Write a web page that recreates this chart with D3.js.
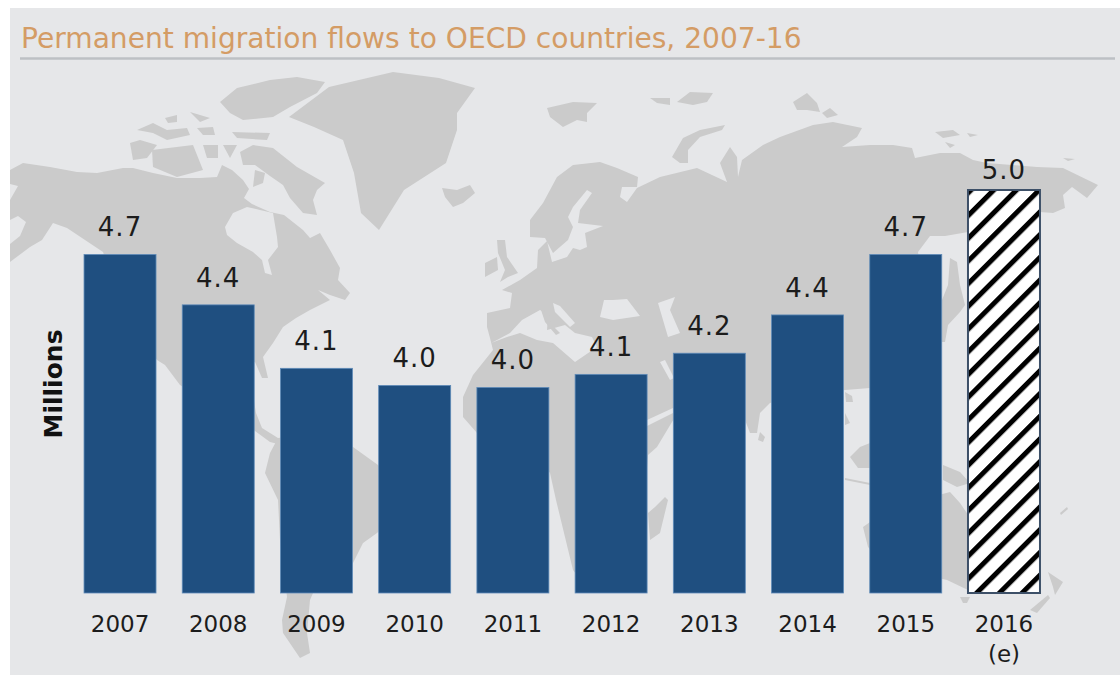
<!DOCTYPE html>
<html>
<head>
<meta charset="utf-8">
<title>Permanent migration flows to OECD countries, 2007-16</title>
<script src="https://cdn.jsdelivr.net/npm/d3@7"></script>
<style>
  html, body { margin: 0; padding: 0; background: #fff; }
  svg { display: block; }
  text { font-family: "DejaVu Sans", Verdana, sans-serif; }
</style>
</head>
<body>
<svg id="chart" width="1120" height="675"></svg>
<script>
// Chart values
const years = ["2007", "2008", "2009", "2010", "2011", "2012", "2013", "2014", "2015", "2016"];
const flows = [4.68, 4.43, 4.115, 4.03, 4.02, 4.085, 4.19, 4.38, 4.68, 5.0];
const estimatedYears = ["2016"];
const titleText = "Permanent migration flows to OECD countries, 2007-16";
const unitLabel = "Millions";

// Backdrop world map outlines, in page units
const landShapes = [
  // North America
  [[10,170],[23,163],[50,167],[77,172],[97,173],[123,168],[133,168],[153,173],[177,178],[200,178],[217,177],[222,165],[232,170],[243,180],[249,189],[244,198],[252,204],[270,212],[284,215],[303,230],[310,238],[320,233],[330,250],[340,268],[338,280],[350,293],[345,300],[330,295],[318,290],[330,300],[310,310],[296,318],[283,327],[273,343],[263,357],[268,378],[262,378],[255,362],[240,365],[215,368],[200,380],[215,400],[235,405],[253,395],[256,413],[262,428],[278,438],[278,444],[270,442],[255,431],[230,415],[180,385],[165,365],[157,360],[120,300],[103,252],[67,228],[53,223],[42,240],[30,247],[10,262],[10,244],[20,236],[26,222],[18,216],[10,220],[10,200],[18,186],[10,184]],
  // South America
  [[278,438],[300,435],[353,447],[378,465],[400,490],[396,515],[377,533],[363,543],[353,563],[335,585],[313,593],[310,600],[307,633],[310,653],[300,658],[283,633],[282,620],[287,597],[280,540],[278,500],[265,473],[270,453]],
  // Greenland
  [[289,117],[329,87],[393,72],[439,78],[475,88],[457,113],[457,130],[446,163],[404,190],[379,230],[361,213],[354,173],[343,140],[314,127]],
  // Canadian Arctic islands
  [[240,152],[253,145],[273,148],[297,167],[325,183],[317,190],[313,200],[317,215],[303,213],[290,198],[283,185],[270,176],[255,165],[243,165]],
  [[220,102],[237,88],[270,80],[297,77],[325,82],[317,93],[290,107],[273,117],[243,120],[230,113]],
  [[152,150],[193,145],[203,170],[177,177],[153,167]],
  [[130,143],[140,140],[157,145],[147,158],[133,160]],
  [[137,130],[153,123],[167,130],[187,128],[190,135],[167,140],[153,133]],
  [[165,118],[177,115],[177,122],[168,123]],
  [[190,112],[210,118],[200,122]],
  [[197,128],[213,127],[215,135],[203,135]],
  [[232,132],[270,133],[267,140],[237,138]],
  [[203,145],[218,145],[218,158],[207,158]],
  [[223,145],[237,145],[230,158]],
  [[255,170],[265,173],[263,183],[253,187]],
  // Iceland, Svalbard and the Russian Arctic
  [[442,188],[457,190],[470,185],[475,193],[463,203],[453,207],[445,197]],
  [[547,108],[573,102],[597,103],[587,113],[587,122],[577,120],[563,127],[550,117]],
  [[650,98],[670,98],[670,105],[657,103]],
  [[677,102],[690,92],[713,93],[707,102],[693,105]],
  [[672,157],[683,138],[700,130],[725,125],[722,130],[700,137],[688,150],[688,163],[680,163]],
  [[793,102],[807,93],[817,103],[820,112],[807,110],[797,110]],
  [[822,113],[830,108],[838,115],[827,118]],
  [[935,132],[953,130],[960,135],[943,138]],
  [[967,133],[978,135],[970,137]],
  [[945,142],[955,145],[950,148]],
  [[1063,158],[1075,159],[1068,161]],
  // Britain and Ireland
  [[497,240],[505,240],[507,257],[518,273],[508,277],[500,282],[505,270],[498,253]],
  [[485,263],[497,257],[498,270],[485,277]],
  // Eurasia and Africa
  [[512,293],[502,290],[520,280],[537,268],[538,250],[547,241],[552,262],[567,257],[573,248],[580,250],[587,247],[585,233],[603,226],[578,223],[580,210],[592,193],[587,190],[573,207],[568,217],[573,227],[568,240],[553,253],[545,238],[530,237],[530,220],[543,203],[557,177],[573,165],[600,162],[617,168],[638,177],[637,187],[622,187],[620,197],[627,202],[637,188],[660,177],[697,168],[727,182],[720,163],[730,147],[737,157],[738,177],[742,160],[763,145],[780,137],[813,125],[833,122],[862,128],[857,137],[842,147],[870,145],[893,145],[912,148],[915,158],[940,153],[960,153],[973,160],[987,163],[1037,167],[1063,168],[1098,185],[1087,198],[1072,187],[1063,195],[1065,208],[1053,213],[1040,212],[968,232],[945,236],[930,236],[918,252],[925,300],[900,340],[870,388],[845,390],[800,395],[770,403],[760,413],[757,433],[750,433],[745,420],[720,395],[680,410],[672,422],[657,447],[648,455],[640,550],[620,590],[590,592],[573,570],[556,500],[550,473],[530,445],[505,440],[477,433],[463,417],[463,397],[473,375],[493,350],[490,338],[487,327],[487,313],[510,308]],
  // Japan and South-East Asia
  [[950,258],[957,262],[960,285],[965,305],[960,312],[948,325],[945,342],[942,342],[942,300],[948,285]],
  [[845,392],[852,396],[853,402],[846,402]],
  [[845,413],[850,423],[845,425]],
  [[850,457],[860,447],[870,443],[870,468],[858,468]],
  [[845,478],[870,483],[870,485],[845,480]],
  [[943,465],[960,472],[970,483],[957,487],[943,480]],
  // Sri Lanka and Madagascar
  [[760,432],[765,437],[763,442],[758,440]],
  [[665,497],[668,500],[660,533],[650,540],[648,513],[655,507]],
  // Australia and New Zealand
  [[863,527],[880,515],[920,500],[950,492],[960,503],[975,525],[1000,565],[985,590],[968,590],[947,580],[925,575],[880,560],[868,547]],
  [[960,597],[970,597],[967,603],[963,603]],
  [[1048,572],[1063,582],[1055,595],[1053,587]],
  [[1048,595],[1050,598],[1037,613],[1030,610]],
  [[1060,513],[1067,507],[1068,509],[1061,515]]
];

// Inland seas and bays, cut out of the land above
const seaShapes = [
  // Hudson Bay
  [[225,227],[233,213],[247,207],[260,210],[273,213],[277,237],[278,247],[268,260],[272,275],[265,273],[262,260],[253,252],[237,243],[227,235]],
  // Mediterranean
  [[491,343],[497,340],[510,333],[522,320],[540,310],[548,315],[547,330],[565,325],[575,333],[592,337],[597,347],[575,362],[553,343],[537,340],[520,333],[507,337]],
  // Adriatic
  [[553,303],[560,306],[575,323],[570,327],[555,312]],
  // Black Sea
  [[600,317],[604,300],[613,300],[627,299],[640,316],[613,320]],
  // Caspian
  [[658,303],[675,297],[670,310],[680,333],[668,337],[663,320]],
  // Red Sea and Gulf of Aden
  [[660,362],[665,360],[674,378],[670,380]],
  [[647,420],[673,408],[673,413],[647,426]]
];
// Italy sits on top of the Mediterranean cut-out
const peninsulaShapes = [
  [[541,310],[548,312],[552,325],[560,333],[556,335],[545,322]]
];

const colors = {
  page: "#e6e7e9",
  land: "#cbcbcb",
  bar: "#1f4f80",
  barEdge: "#5f8bb8",
  hatchEdge: "#3d5068",
  title: "#d49c65",
  rule: "#bdc0c4",
  text: "#1c1c1c"
};

const svg = d3.select("#chart");
const defs = svg.append("defs");

// Diagonal hatching for the estimated year
const hatch = defs.append("pattern")
  .attr("id", "hatch")
  .attr("patternUnits", "userSpaceOnUse")
  .attr("width", 16.05)
  .attr("height", 16.05)
  .attr("patternTransform", "rotate(45)");
hatch.append("rect").attr("width", 16.05).attr("height", 16.05).attr("fill", "#ffffff");
hatch.append("rect").attr("width", 5).attr("height", 16.05).attr("fill", "#000000");

// Panel
svg.append("rect")
  .attr("x", 10).attr("y", 8)
  .attr("width", 1110).attr("height", 667)
  .attr("fill", colors.page);

// Map backdrop
const outline = d3.line().curve(d3.curveLinearClosed);
const map = svg.append("g").attr("class", "map");
map.selectAll("path.land").data(landShapes).join("path")
  .attr("class", "land").attr("d", outline).attr("fill", colors.land);
map.selectAll("path.sea").data(seaShapes).join("path")
  .attr("class", "sea").attr("d", outline).attr("fill", colors.page);
map.selectAll("path.peninsula").data(peninsulaShapes).join("path")
  .attr("class", "peninsula").attr("d", outline).attr("fill", colors.land);

// Title and rule
svg.append("text")
  .attr("x", 21).attr("y", 48)
  .attr("font-size", 28.1)
  .attr("fill", colors.title)
  .text(titleText);
svg.append("line")
  .attr("x1", 20).attr("x2", 1115)
  .attr("y1", 58.5).attr("y2", 58.5)
  .attr("stroke", colors.rule).attr("stroke-width", 2.5);

// Scales: the vertical axis is truncated, starting at 3 million
const x = d3.scaleBand().domain(years).range([57.8, 1066.2]).padding(0.267);
const y = d3.scaleLinear().domain([3, 5]).range([593, 190]);
const formatValue = d3.format(".1f");
const rows = years.map((year, i) => ({ year, value: flows[i], estimated: estimatedYears.includes(year) }));

// Bars
svg.append("g").attr("class", "bars")
  .selectAll("rect").data(rows).join("rect")
  .attr("x", d => x(d.year))
  .attr("y", d => y(d.value))
  .attr("width", x.bandwidth())
  .attr("height", d => y(3) - y(d.value))
  .attr("fill", d => d.estimated ? "url(#hatch)" : colors.bar)
  .attr("stroke", d => d.estimated ? colors.hatchEdge : colors.barEdge)
  .attr("stroke-width", d => d.estimated ? 2 : 0.8);

// Value labels
svg.append("g").attr("class", "values")
  .selectAll("text").data(rows).join("text")
  .attr("x", d => x(d.year) + x.bandwidth() / 2)
  .attr("y", d => y(d.value) - (d.estimated ? 11 : 18))
  .attr("text-anchor", "middle")
  .attr("font-size", 26)
  .attr("letter-spacing", 1)
  .attr("fill", colors.text)
  .text(d => formatValue(d.value));

// Year axis
const axis = svg.append("g")
  .attr("class", "x-axis")
  .attr("transform", `translate(0,${y(3)})`)
  .call(d3.axisBottom(x).tickSize(0).tickPadding(22.5));
axis.select(".domain").remove();
axis.selectAll("text")
  .attr("font-size", 23)
  .attr("font-family", "\"DejaVu Sans\", Verdana, sans-serif")
  .attr("fill", colors.text);
axis.selectAll(".tick")
  .filter(d => estimatedYears.includes(d))
  .select("text")
  .append("tspan")
  .attr("x", 0)
  .attr("dy", "1.32em")
  .text("(e)");

// Unit label
svg.append("text")
  .attr("transform", "translate(62,384) rotate(-90)")
  .attr("text-anchor", "middle")
  .attr("font-size", 25)
  .attr("font-weight", "bold")
  .attr("fill", "#111111")
  .text(unitLabel);
</script>
</body>
</html>
